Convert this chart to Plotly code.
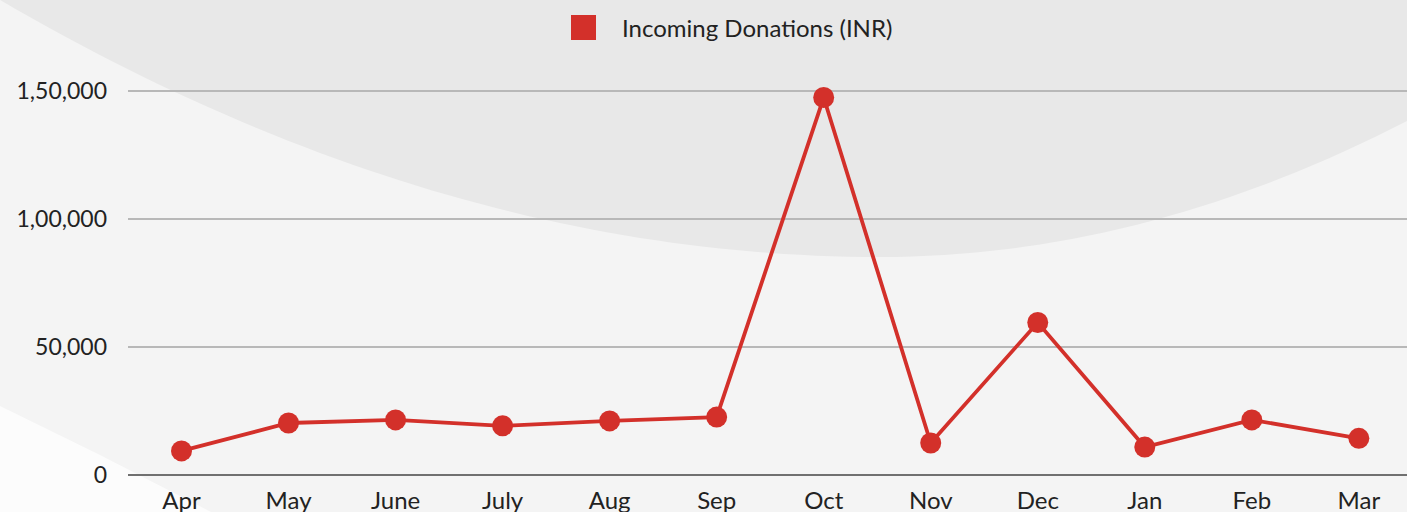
import plotly.graph_objects as go

months = ["Apr", "May", "June", "July", "Aug", "Sep", "Oct", "Nov", "Dec", "Jan", "Feb", "Mar"]
donations = [9400, 20300, 21500, 19200, 21100, 22600, 147300, 12500, 59500, 10900, 21500, 14300]
series_name = "Incoming Donations (INR)"
tick_vals = [0, 50000, 100000, 150000]
tick_text = ["0", "50,000", "1,00,000", "1,50,000"]

W, H = 1407, 512
L, R, T, B = 128, 0, 65, 37
pw, ph = W - L - R, H - T - B

def px(x, y):
    return (x - L) / pw, (H - B - y) / ph

def curve_path():
    pts = []
    for i in range(0, 1408, 16):
        x = i
        a = 3.32e-4 if x < 880 else 4.9e-4
        y = 257 - a * (x - 880) ** 2
        pts.append(px(x, y))
    pts.append(px(1407, 121))
    d = "M %.4f %.4f " % px(-2, -2)
    for (u, v) in pts:
        d += "L %.4f %.4f " % (u, v)
    d += "L %.4f %.4f Z" % px(1409, -2)
    return d

def corner_path():
    d = "M %.4f %.4f " % px(-2, 405)
    d += "L %.4f %.4f " % px(100, 455)
    d += "L %.4f %.4f " % px(215, 514)
    d += "L %.4f %.4f Z" % px(-2, 514)
    return d

red = "#d3302a"
fig = go.Figure()
fig.add_trace(go.Scatter(
    x=months, y=donations, mode="lines+markers", name=series_name,
    line=dict(color=red, width=3.8),
    marker=dict(color=red, size=21),
    showlegend=False,
))

sq0 = px(571, 40)
sq1 = px(596, 15)
txt = px(620, 27.5)

fig.update_layout(
    width=W, height=H,
    margin=dict(l=L, r=R, t=T, b=B, autoexpand=False),
    paper_bgcolor="#f4f4f4",
    plot_bgcolor="rgba(0,0,0,0)",
    font=dict(family="Lato, sans-serif", size=23, color="#222222"),
    showlegend=False,
    shapes=[
        dict(type="path", xref="paper", yref="paper", path=curve_path(),
             fillcolor="#e8e8e8", line=dict(width=0), layer="below"),
        dict(type="path", xref="paper", yref="paper", path=corner_path(),
             fillcolor="#fcfcfc", line=dict(width=0), layer="below"),
        dict(type="rect", xref="paper", yref="paper",
             x0=sq0[0], y0=sq0[1], x1=sq1[0], y1=sq1[1],
             fillcolor=red, line=dict(width=0)),
    ],
    annotations=[
        dict(xref="paper", yref="paper", x=txt[0], y=txt[1], text=series_name,
             showarrow=False, xanchor="left", yanchor="middle",
             font=dict(size=24, color="#222222")),
    ],
    xaxis=dict(type="category", range=[-0.5, 11.45], showgrid=False,
               showline=False, zeroline=False, ticks="", automargin=False,
               ticklabelstandoff=9,
               tickfont=dict(size=24), fixedrange=True),
    yaxis=dict(range=[0, 160000], tickvals=tick_vals, ticktext=tick_text,
               showgrid=True, gridcolor="#b8b8b8", gridwidth=2,
               zeroline=True, zerolinecolor="#707070", zerolinewidth=2,
               showline=False, ticks="", ticklabelstandoff=20, automargin=False,
               tickfont=dict(size=23), fixedrange=True),
)

fig.write_html("out.html", config={"displayModeBar": False},
               post_script="document.body.style.margin='0';")
